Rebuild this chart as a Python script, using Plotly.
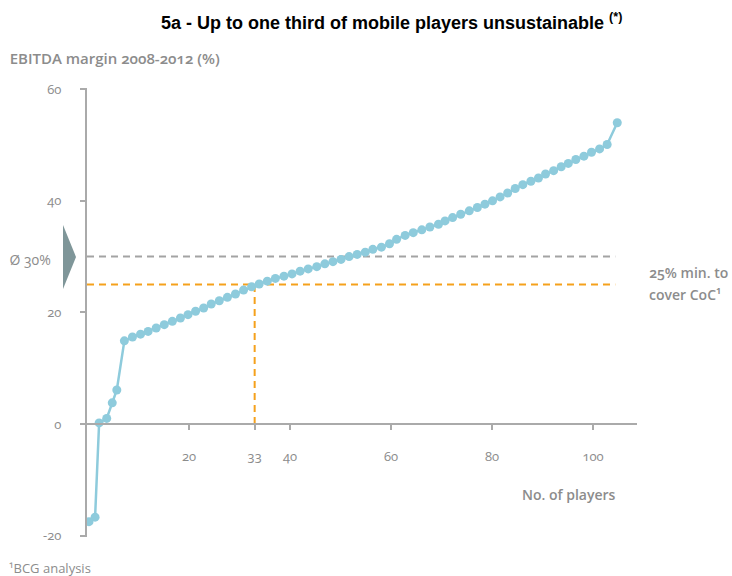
import plotly.graph_objects as go

# EBITDA margin 2008-2012 (%) per mobile player, ranked from lowest to highest
player_pos = [
    0.2, 1.4, 2.2, 3.7, 4.8, 5.7,
    7.2, 8.8, 10.4, 11.9, 13.5, 15.1, 16.7, 18.3, 19.8, 21.3, 22.9, 24.4,
    26.0, 27.6, 29.2, 30.8, 32.4, 33.9, 35.5, 37.1, 38.8, 40.4, 42.0, 43.6,
    45.3, 46.9, 48.5, 50.1, 51.7, 53.3, 54.9, 56.4, 58.1, 59.7, 61.1, 62.8,
    64.4, 66.1, 67.7, 69.4, 70.7, 72.2, 73.8, 75.5, 77.1, 78.6, 80.1, 81.6,
    83.1, 84.6, 86.1, 87.7, 89.2, 90.6, 92.2, 93.7, 95.1, 96.6, 98.2, 99.7,
    101.3, 102.8, 104.8,
]
ebitda_margin = [
    -17.5, -16.7, 0.2, 1.0, 3.8, 6.1,
    14.9, 15.6, 16.1, 16.6, 17.2, 17.8, 18.4, 19.0, 19.6, 20.2, 20.8, 21.5,
    22.1, 22.7, 23.3, 24.0, 24.6, 25.1, 25.6, 26.1, 26.5, 26.9, 27.4, 27.8,
    28.2, 28.7, 29.1, 29.5, 30.0, 30.4, 30.8, 31.3, 31.7, 32.3, 33.1, 33.8,
    34.3, 34.8, 35.3, 35.8, 36.4, 37.0, 37.6, 38.2, 38.8, 39.4, 40.0, 40.7,
    41.4, 42.2, 42.9, 43.5, 44.1, 44.8, 45.4, 46.1, 46.7, 47.4, 48.0, 48.7,
    49.3, 50.1, 54.0,
]

avg_margin = 30          # Ø 30%
min_margin = 25          # 25% min. to cover CoC
cutoff_player = 33       # players below the cost-of-capital threshold

x_tickvals = [20, 33, 40, 60, 80, 100]
x_ticktext = ["20", "33", "40", "60", "80", "100"]
y_tickvals = [-20, 0, 20, 40, 60]
y_ticktext = ["-20", "0", "20", "40", "60"]

W, H = 732, 576
ML, MR, MT, MB = 87, 95, 88, 39
X_RANGE = [-0.2, 108.71]
Y_RANGE = [-20.25, 60.22]
PLOT_W = W - ML - MR
PLOT_H = H - MT - MB

GREY_TXT = "#8c8c8c"
AXIS_GREY = "#aaaaaa"
POINT_BLUE = "#8ecbdc"
ORANGE = "#f5a11c"
DASH_GREY = "#a3a3a3"
FONT = "Open Sans"


def px_x(px):
    return (px - ML) / PLOT_W


def px_y(py):
    return (H - MB - py) / PLOT_H


fig = go.Figure()

fig.add_trace(go.Scatter(
    x=player_pos, y=ebitda_margin, mode="lines+markers",
    line=dict(color=POINT_BLUE, width=2.5),
    marker=dict(color=POINT_BLUE, size=9),
    hoverinfo="skip", showlegend=False,
))

line_end = 104.4
fig.add_shape(type="line", xref="x", yref="y", x0=X_RANGE[0], x1=line_end,
              y0=avg_margin, y1=avg_margin, layer="below",
              line=dict(color=DASH_GREY, width=2, dash="7px,5px"))
fig.add_shape(type="line", xref="x", yref="y", x0=X_RANGE[0], x1=line_end,
              y0=min_margin, y1=min_margin, layer="below",
              line=dict(color=ORANGE, width=2, dash="7px,5px"))
fig.add_shape(type="line", xref="x", yref="y", x0=cutoff_player, x1=cutoff_player,
              y0=0, y1=min_margin, layer="below",
              line=dict(color=ORANGE, width=2, dash="7px,5px"))

# arrow pointing at the average line
fig.add_shape(type="path", xref="paper", yref="paper",
              path=f"M {px_x(63)} {px_y(225)} L {px_x(76)} {px_y(257)} L {px_x(63)} {px_y(289)} Z",
              fillcolor="#7f9699", line=dict(width=0))

fig.update_layout(
    width=W, height=H,
    margin=dict(l=ML, r=MR, t=MT, b=MB),
    paper_bgcolor="white", plot_bgcolor="white",
    font=dict(family=FONT, color=GREY_TXT),
    xaxis=dict(
        range=X_RANGE, showgrid=False, zeroline=False,
        anchor="free", position=(0 - Y_RANGE[0]) / (Y_RANGE[1] - Y_RANGE[0]),
        showline=True, linecolor=AXIS_GREY, linewidth=2,
        ticks="outside", ticklen=5, tickwidth=1.5, tickcolor=AXIS_GREY,
        tickvals=x_tickvals, ticktext=x_ticktext,
        tickfont=dict(size=13, color=GREY_TXT, family=FONT),
        ticklabelstandoff=15,
    ),
    yaxis=dict(
        range=Y_RANGE, showgrid=False, zeroline=False,
        showline=True, linecolor=AXIS_GREY, linewidth=2,
        ticks="outside", ticklen=5, tickwidth=1.5, tickcolor=AXIS_GREY,
        tickvals=y_tickvals, ticktext=y_ticktext,
        tickfont=dict(size=13, color=GREY_TXT, family=FONT),
        ticklabelstandoff=16,
    ),
)

annotations = [
    dict(text="<b>5a - Up to one third of mobile players unsustainable</b> <sup><b>(*)</b></sup>",
         x=px_x(391), y=px_y(21), xanchor="center", yanchor="middle",
         font=dict(family="Liberation Sans", size=18, color="black")),
    dict(text="EBITDA margin 2008-2012 (%)", x=px_x(7), y=px_y(58),
         xanchor="left", yanchor="middle",
         font=dict(size=15, color=GREY_TXT, weight=600)),
    dict(text="Ø 30%", x=px_x(7), y=px_y(259), xanchor="left", yanchor="middle",
         font=dict(size=14, color=GREY_TXT)),
    dict(text="25% min. to", x=px_x(647), y=px_y(272), xanchor="left", yanchor="middle",
         font=dict(size=14, color=GREY_TXT, weight=600)),
    dict(text="cover CoC¹", x=px_x(647), y=px_y(294), xanchor="left", yanchor="middle",
         font=dict(size=14, color=GREY_TXT, weight=600)),
    dict(text="No. of players", x=px_x(618), y=px_y(494), xanchor="right", yanchor="middle",
         font=dict(size=14, color=GREY_TXT, weight=600)),
    dict(text="¹BCG analysis", x=px_x(7), y=px_y(568), xanchor="left", yanchor="middle",
         font=dict(size=13, color=GREY_TXT)),
]
for a in annotations:
    a.update(xref="paper", yref="paper", showarrow=False)
fig.update_layout(annotations=annotations)

# old-style figures for the grey labels
oldstyle_js = """
var gd = document.getElementById('{plot_id}');
gd.querySelectorAll('.xtick text, .ytick text, .annotation-text').forEach(function (t) {
  if (t.style.fill !== 'rgb(0, 0, 0)') { t.style.fontFeatureSettings = '"onum" 1'; }
});
"""
fig.write_html("out.html", post_script=oldstyle_js)
